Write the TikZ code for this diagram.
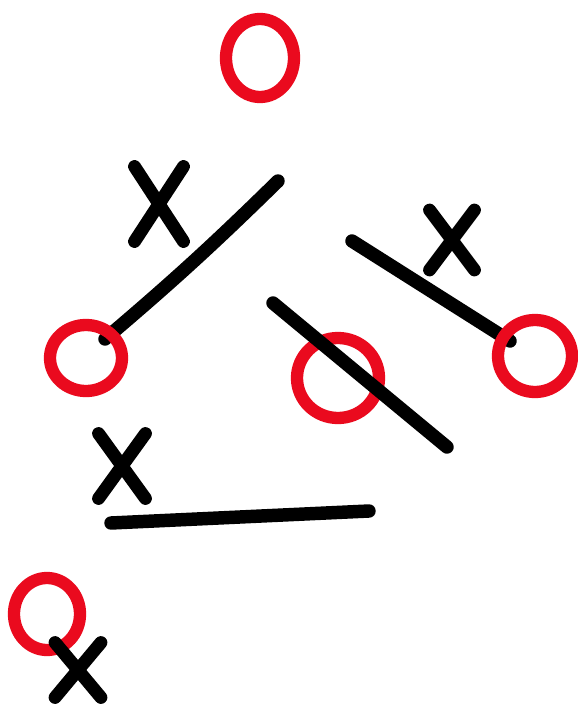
\documentclass[tikz,border=0pt]{standalone}
\usepackage{xcolor}
\usepackage{tikz}
\usetikzlibrary{shapes.geometric, shapes.misc, positioning}
\definecolor{penred}{RGB}{234,10,30}

\begin{document}
\begin{tikzpicture}[
    x=0.03cm, y=-0.03cm,
    ring/.style={ellipse, draw=penred, line width=10.5pt, inner sep=0pt},
    cross/.style={cross out, draw=black, line width=11pt, line cap=round, inner sep=0pt},
    stroke/.style={line width=11.5pt, line cap=round}
]
    \useasboundingbox[fill=white] (0,0) rectangle (577,707);

    % Stroke ends
    \coordinate (s1a) at (278,181);
    \coordinate (s1b) at (105,339);
    \coordinate (s2a) at (352,241);
    \coordinate (s2b) at (510,341);
    \coordinate (s3a) at (273,303);
    \coordinate (s3b) at (447,447);
    \coordinate (s4a) at (111,523);
    \coordinate (s4b) at (369,511);

    % Strokes under the rings
    \draw[stroke] (s1a) to[bend left=2] (s1b);
    \draw[stroke] (s2a) -- (s2b);

    % Rings
    \node[ring, minimum width=2.04cm, minimum height=2.34cm] (otop) at (260,58) {};
    \node[ring, minimum width=2.16cm, minimum height=1.98cm] (oleft) at (86,358) {};
    \node[ring, minimum width=2.46cm, minimum height=2.40cm] (omid) at (338,378) {};
    \node[ring, minimum width=2.22cm, minimum height=2.16cm] (oright) at (535,356) {};
    \node[ring, minimum width=1.98cm, minimum height=2.16cm] (obot) at (47,614) {};

    % Strokes over the rings
    \draw[stroke] (s3a) -- (s3b);
    \draw[stroke] (s4a) -- (s4b);

    % Crosses
    \node[cross, minimum width=1.08cm, minimum height=1.86cm] (x1) at (159,204) {};
    \node[cross, minimum width=0.96cm, minimum height=1.41cm] (x2) at (452,240) {};
    \node[cross, minimum width=1.02cm, minimum height=1.56cm] (x3) at (122,466) {};
    \node[cross, minimum width=0.99cm, minimum height=1.26cm] (x4) at (78,670) {};
\end{tikzpicture}
\end{document}
